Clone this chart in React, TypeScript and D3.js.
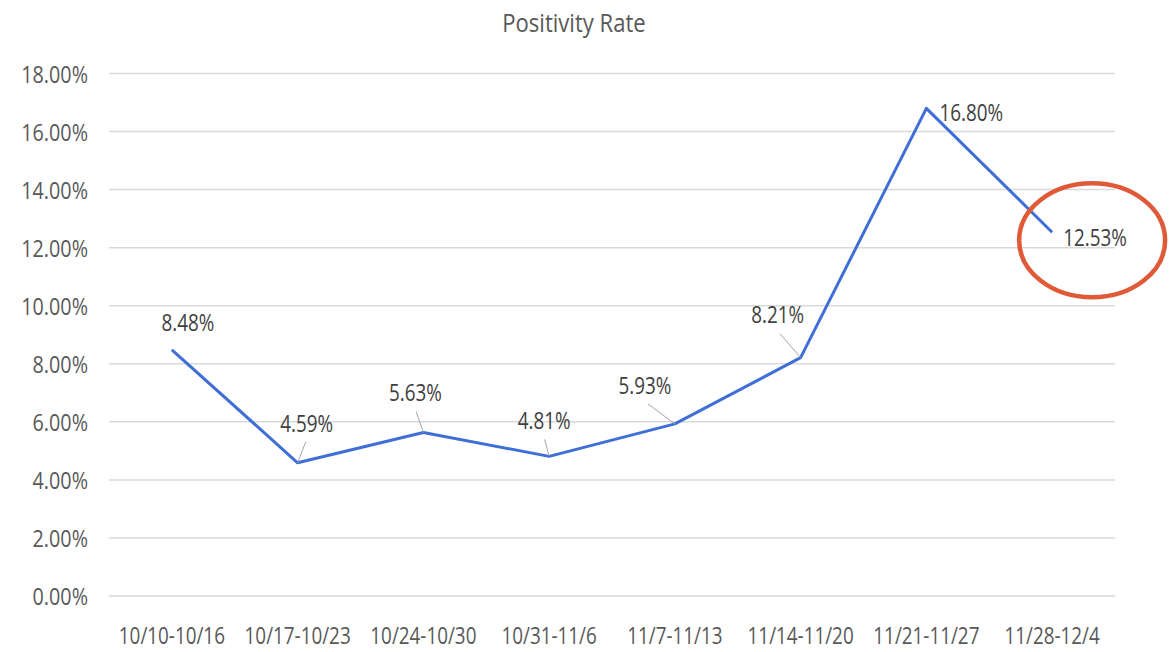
import React, { useRef, useEffect } from 'react';
import * as d3 from 'd3';

const title = 'Positivity Rate';
const weeks = [
  '10/10-10/16',
  '10/17-10/23',
  '10/24-10/30',
  '10/31-11/6',
  '11/7-11/13',
  '11/14-11/20',
  '11/21-11/27',
  '11/28-12/4',
];
const positivity = [8.48, 4.59, 5.63, 4.81, 5.93, 8.21, 16.8, 12.53];
const yTicks = [0, 2, 4, 6, 8, 10, 12, 14, 16, 18];

// where Excel put each data label, relative to its point, and whether it drew a leader line
const labelOffsets = [
  { dx: 16, dy: -28, leader: false },
  { dx: 9, dy: -40, leader: true },
  { dx: -8, dy: -40, leader: true },
  { dx: -5, dy: -36, leader: true },
  { dx: -30, dy: -39, leader: true },
  { dx: -23, dy: -43, leader: true },
  { dx: 45, dy: 4, leader: false },
  { dx: 43, dy: 5, leader: false },
];

const FONT = '"Open Sans", sans-serif';
const SQUEEZE = 0.82; // the original uses a narrow font (Calibri), so squash Open Sans a bit

type Sel = d3.Selection<any, any, any, any>;

// text at (x, y), horizontally condensed around its anchor
const addText = (parent: Sel, x: number, y: number, str: string, size: number, anchor: string, fill: string, sx = SQUEEZE) =>
  parent.append('text')
    .attr('transform', `translate(${x},${y}) scale(${sx},1)`)
    .attr('text-anchor', anchor)
    .attr('dominant-baseline', 'central')
    .attr('font-family', FONT)
    .attr('font-size', size)
    .attr('fill', fill)
    .text(str);

const App = () => {
  const chartRef = useRef<SVGSVGElement>(null);

  useEffect(() => {
    const width = 1173;
    const height = 652;
    const margin = { top: 73.5, right: 58, bottom: 56, left: 109 };

    const svg = d3.select(chartRef.current);
    svg.selectAll('*').remove();
    svg.attr('width', width).attr('height', height);

    const x = d3.scalePoint<string>()
      .domain(weeks)
      .range([margin.left, width - margin.right])
      .padding(0.5);

    const y = d3.scaleLinear()
      .domain([0, 18])
      .range([height - margin.bottom, margin.top]);

    // title
    addText(svg, 574, 22, title, 26, 'middle', '#595959', 0.85);

    // gridlines
    svg.append('g')
      .selectAll('line')
      .data(yTicks)
      .enter().append('line')
      .attr('x1', margin.left)
      .attr('x2', width - margin.right)
      .attr('y1', d => y(d))
      .attr('y2', d => y(d))
      .attr('stroke', '#d9d9d9')
      .attr('stroke-width', 1.5);

    // y tick labels
    const yAxis = svg.append('g');
    yTicks.forEach(t => addText(yAxis, 88, y(t), d3.format('.2f')(t) + '%', 23, 'end', '#595959', 0.86));

    // x tick labels
    const xAxis = svg.append('g');
    weeks.forEach(w => addText(xAxis, x(w)!, 635, w, 23, 'middle', '#595959'));

    // the line
    const line = d3.line<number>()
      .x((d, i) => x(weeks[i])!)
      .y(d => y(d));

    svg.append('path')
      .datum(positivity)
      .attr('d', line)
      .attr('fill', 'none')
      .attr('stroke', '#3f6fd6')
      .attr('stroke-width', 3)
      .attr('stroke-linejoin', 'round');

    // data labels + leader lines
    const labels = svg.append('g');
    positivity.forEach((v, i) => {
      const px = x(weeks[i])!;
      const py = y(v);
      const off = labelOffsets[i];
      if (off.leader) {
        labels.append('line')
          .attr('x1', px + off.dx * 0.9)
          .attr('y1', py + off.dy + 19)
          .attr('x2', px)
          .attr('y2', py)
          .attr('stroke', '#a6a6a6')
          .attr('stroke-width', 1);
      }
      addText(labels, px + off.dx, py + off.dy, d3.format('.2f')(v) + '%', 23, 'middle', '#404040');
    });

    // the hand-drawn highlight around the last point
    const last = positivity.length - 1;
    svg.append('ellipse')
      .attr('cx', x(weeks[last])! + 40)
      .attr('cy', y(positivity[last]) + 8)
      .attr('rx', 73)
      .attr('ry', 57)
      .attr('fill', 'none')
      .attr('stroke', '#e05a38')
      .attr('stroke-width', 4.5);
  }, []);

  return (
    <svg ref={chartRef} style={{ display: 'block', position: 'absolute', left: 0, top: 0 }}></svg>
  );
};

export default App;
